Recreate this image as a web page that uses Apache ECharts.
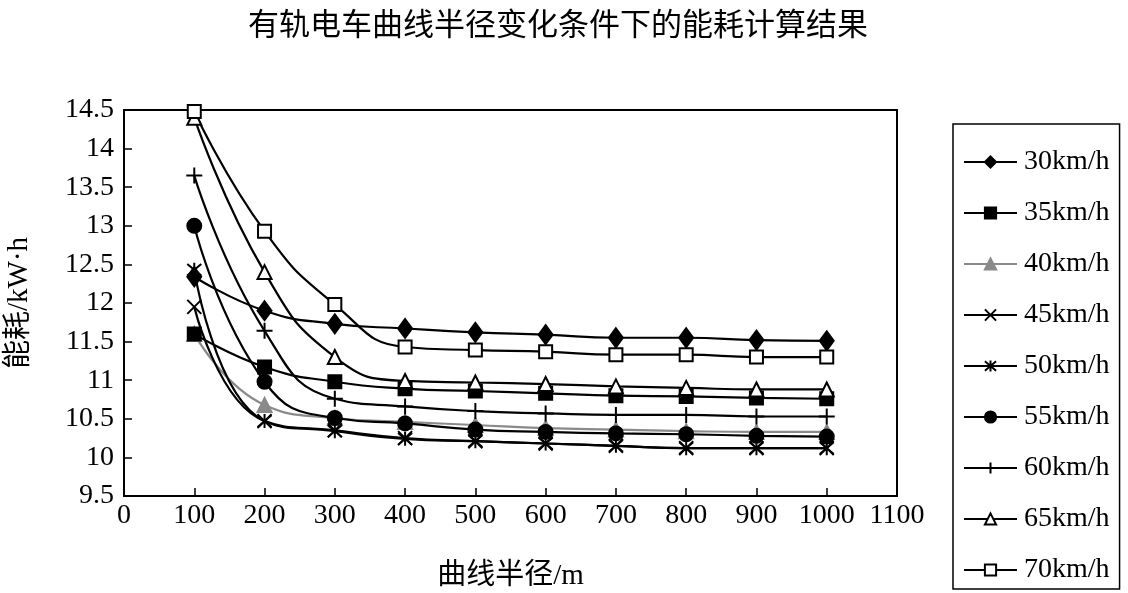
<!DOCTYPE html>
<html><head><meta charset="utf-8">
<script src="https://cdn.jsdelivr.net/npm/echarts@6/dist/echarts.min.js"></script>
<style>html,body{margin:0;padding:0;background:#fff}#c{width:1128px;height:593px}</style>
</head><body><div id="c"></div>
<script>
const radius = [100, 200, 300, 400, 500, 600, 700, 800, 900, 1000];
const seriesNames = ['30km/h','35km/h','40km/h','45km/h','50km/h','55km/h','60km/h','65km/h','70km/h'];
const s30 = [12.34, 11.90, 11.73, 11.67, 11.62, 11.59, 11.55, 11.55, 11.52, 11.51];
const s35 = [11.60, 11.17, 10.98, 10.89, 10.86, 10.83, 10.80, 10.79, 10.77, 10.76];
const s40 = [11.60, 10.68, 10.51, 10.46, 10.42, 10.38, 10.36, 10.34, 10.33, 10.33];
const s45 = [11.95, 10.47, 10.35, 10.25, 10.21, 10.18, 10.15, 10.12, 10.12, 10.12];
const s50 = [12.43, 10.47, 10.34, 10.24, 10.21, 10.18, 10.15, 10.12, 10.12, 10.12];
const s55 = [13.00, 10.98, 10.51, 10.44, 10.36, 10.33, 10.31, 10.30, 10.28, 10.27];
const s60 = [13.65, 11.64, 10.76, 10.66, 10.60, 10.57, 10.55, 10.55, 10.53, 10.53];
const s65 = [14.40, 12.40, 11.30, 10.99, 10.97, 10.95, 10.92, 10.90, 10.88, 10.88];
const s70 = [14.48, 12.93, 11.98, 11.43, 11.39, 11.37, 11.33, 11.33, 11.30, 11.30];
const allValues = [s30, s35, s40, s45, s50, s55, s60, s65, s70];

const serif = '"Liberation Serif","Noto Sans CJK SC",serif';
const styles = [
  {symbol:'diamond', size:[14,19], color:'#000', fill:'#000'},
  {symbol:'rect', size:13, color:'#000', fill:'#000'},
  {symbol:'triangle', size:14, color:'#8a8a8a', fill:'#8a8a8a'},
  {symbol:'path://M0,0L10,10M10,0L0,10', size:14, color:'#000', fill:'none'},
  {symbol:'path://M0,0L10,10M10,0L0,10M5,-1L5,11', size:14, color:'#000', fill:'none'},
  {symbol:'circle', size:14, color:'#000', fill:'#000'},
  {symbol:'path://M5,0L5,10M0,5L10,5', size:16, color:'#000', fill:'none'},
  {symbol:'triangle', size:14, color:'#000', fill:'#fff'},
  {symbol:'rect', size:13, color:'#000', fill:'#fff'}
];

const series = allValues.map((vals, i) => {
  const st = styles[i];
  return {
    name: seriesNames[i],
    type: 'line',
    smooth: 0.5,
    data: radius.map((r, j) => [r, vals[j]]),
    symbol: st.symbol,
    symbolSize: st.size,
    showAllSymbol: true,
    color: st.color,
    lineStyle: {color: st.color, width: 2.2},
    itemStyle: {color: st.fill, borderColor: st.color, borderWidth: 2},
    emphasis: {disabled: true},
    z: i === 2 ? 1 : 2
  };
});

const chart = echarts.init(document.getElementById('c'), null, {renderer:'canvas'});
chart.setOption({
  animation: false,
  backgroundColor: '#fff',
  title: {
    text: '有轨电车曲线半径变化条件下的能耗计算结果',
    left: 553, top: 3, textAlign: 'center',
    textStyle: {fontFamily: '"Noto Sans CJK SC",serif', fontSize: 31, fontWeight: 'normal', color: '#000'}
  },
  legend: {
    orient: 'vertical',
    left: 953, top: 124,
    padding: [24, 10, 5, 10],
    borderColor: '#000', borderWidth: 1.5,
    itemWidth: 53, itemHeight: 14, itemGap: 23,
    textStyle: {fontFamily: serif, fontSize: 28, color: '#000', padding: [0, 0, 0, 2]},
    data: seriesNames
  },
  grid: {
    left: 124, right: 231, top: 110, bottom: 97,
    outerBoundsMode: 'none',
    containLabel: false,
    show: true, borderColor: '#000', borderWidth: 2, backgroundColor: 'transparent'
  },
  xAxis: {
    type: 'value', min: 0, max: 1100, interval: 100,
    name: '曲线半径/m', nameLocation: 'middle', nameGap: 66,
    nameTextStyle: {fontFamily: serif, fontSize: 29, color: '#000'},
    axisLine: {show: true, lineStyle: {color: '#000', width: 2}},
    axisTick: {show: true, inside: true, length: 8, lineStyle: {color: '#000', width: 1.5}},
    axisLabel: {fontFamily: serif, fontSize: 28, color: '#000', margin: 6, formatter: v => String(v)},
    splitLine: {show: false}
  },
  yAxis: {
    type: 'value', min: 9.5, max: 14.5, interval: 0.5,
    name: '能耗/kW·h', nameLocation: 'middle', nameGap: 90, nameRotate: 90,
    nameTextStyle: {fontFamily: serif, fontSize: 29, color: '#000'},
    axisLine: {show: true, lineStyle: {color: '#000', width: 2}},
    axisTick: {show: true, inside: true, length: 8, lineStyle: {color: '#000', width: 1.5}},
    axisLabel: {fontFamily: serif, fontSize: 28, color: '#000', margin: 10, formatter: v => String(v)},
    splitLine: {show: false}
  },
  series: series
});
</script>
</body></html>
